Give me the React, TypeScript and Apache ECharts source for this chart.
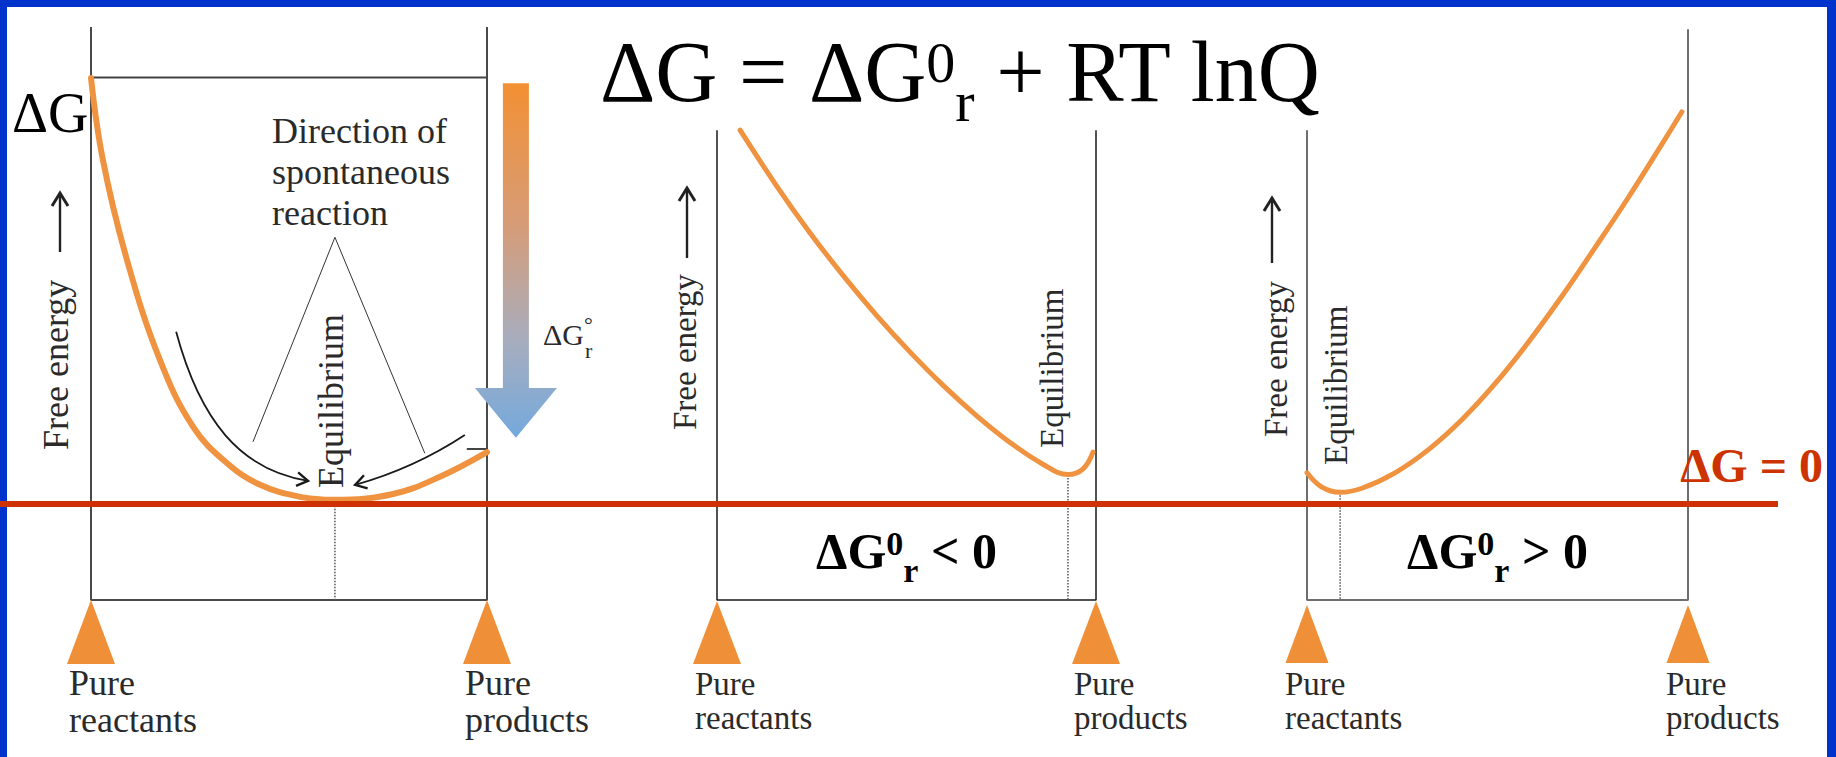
import React, { useEffect, useRef } from 'react';
import * as echarts from 'echarts';

const SERIF = "Liberation Serif, Times New Roman, Times, serif";
const ORANGE = '#EF9340';
const TRI = '#EF8F38';
const RED = '#CC3300';
const BLUE = '#0033CC';
const INK = '#222222';

// ---- panel layout (pixels) ----
const gridLeft = [91, 717, 1307];
const gridWidth = [396, 379, 381];
const GRID_TOP = 27;
const GRID_HEIGHT = 573;

// ---- data: x = extent of reaction (0 pure reactants, 1 pure products), y = free energy (arb. units)
const frameTopLeft = [100, 82, 82];
const frameTopRight = [100, 82, 99.6];
const frameColor = ['#4a4a4a', '#1a1a1a', '#6e6e6e'];
const frameWidth = [2, 1.5, 2];
const curveWidth = [6, 5, 5];

const curve1X = [0, 0.03, 0.091, 0.174, 0.258, 0.343, 0.427, 0.528, 0.616, 0.763, 0.881, 1];
const curve1G = [91.1, 76.8, 59.3, 41.9, 30.2, 23.9, 20.1, 18.0, 17.5, 18.5, 21.5, 25.8];
const curve2X = [0.061, 0.158, 0.245, 0.332, 0.422, 0.509, 0.596, 0.686, 0.773, 0.86, 0.926, 0.966, 0.992];
const curve2G = [82.0, 72.2, 64.1, 56.7, 49.6, 43.3, 37.5, 32.1, 27.5, 23.7, 21.9, 22.9, 25.8];
const curve3X = [0, 0.039, 0.087, 0.144, 0.231, 0.318, 0.407, 0.493, 0.58, 0.669, 0.756, 0.843, 0.932, 0.984];
const curve3G = [22.2, 19.7, 18.8, 19.5, 22.2, 26.2, 31.5, 37.7, 44.9, 53.0, 61.5, 70.2, 79.6, 85.2];

const equilibriumX = [0.616, 0.926, 0.087];
const equilibriumG = [17.5, 21.8, 18.8];
const deltaGZeroLevel = 16.75;

// panel 1 annotations
const pureReactantsG = 91.2;
const pureProductsG = 26.35;
const levelLineEndX = 1.19;
const productLevelStartX = 0.949;
const standardArrow = [1.073, 90.2, 37.0, 28.3]; // x, top, head base, tip
const pointerLinesX = [0.409, 0.616, 0.843];
const pointerLinesG = [27.6, 63.3, 25.6];
const leftSpontArrow = [0.215, 46.8, 0.275, 31.4, 0.376, 22.7, 0.548, 20.8];
const rightSpontArrow = [0.944, 28.8, 0.856, 24.8, 0.755, 21.8, 0.667, 20.1];

// labels
const endLabels = ['Pure\nreactants', 'Pure\nproducts'];
const labelSize = [36, 33, 33];
const triangleSize = [[48, 64], [48, 63], [43, 58]];
const triangleGap = [0, 1, 5];
const conditionSigns = ['', ' < 0', ' > 0'];

const zip = (xs: number[], ys: number[]) => xs.map((x, i) => [x, ys[i]]);
const curves = [zip(curve1X, curve1G), zip(curve2X, curve2G), zip(curve3X, curve3G)];

const CENTRAL = 0.3374;

let measureCtx: CanvasRenderingContext2D | null = null;
function measure(t: string, size: number, bold = false) {
  if (!measureCtx) measureCtx = document.createElement('canvas').getContext('2d');
  measureCtx!.font = `${bold ? 'bold ' : ''}${size}px ${SERIF}`;
  return measureCtx!.measureText(t).width;
}

function txt(text: string, x: number, y: number, size: number, o: any = {}) {
  const align = o.align || 'left';
  const va = o.va || 'middle';
  return {
    type: 'text',
    x,
    y,
    rotation: o.rotation || 0,
    z: 60,
    silent: true,
    style: {
      text,
      fontSize: size,
      fontFamily: SERIF,
      fontWeight: o.bold ? 'bold' : 'normal',
      fontStyle: o.italic ? 'italic' : 'normal',
      fill: o.color || INK,
      align,
      textAlign: align,
      verticalAlign: va,
      textVerticalAlign: va,
      lineHeight: o.lineHeight,
    },
  };
}

// sequence of [text, size, baseline] pieces laid out left to right
function pieces(list: any[], x0: number, center: boolean, bold: boolean, color: string) {
  const widths = list.map((p) => measure(p[0], p[1], bold));
  const total = widths.reduce((a, b) => a + b, 0);
  let x = center ? x0 - total / 2 : x0;
  return list.map((p, i) => {
    const el = txt(p[0], x, p[2] - CENTRAL * p[1], p[1], { bold, color });
    x += widths[i];
    return el;
  });
}

function arrowUp(x: number, tail: number, tip: number) {
  return [
    { type: 'line', z: 60, silent: true, shape: { x1: x, y1: tail, x2: x, y2: tip + 1 }, style: { stroke: INK, lineWidth: 2.4 } },
    {
      type: 'polyline', z: 60, silent: true,
      shape: { points: [[x - 8, tip + 13], [x, tip], [x + 8, tip + 13]] },
      style: { stroke: INK, lineWidth: 3, fill: 'none' },
    },
  ];
}

function buildOption() {
  const grid = gridLeft.map((l, i) => ({ left: l, top: GRID_TOP, width: gridWidth[i], height: GRID_HEIGHT }));
  const xAxis = gridLeft.map((_, i) => ({ gridIndex: i, type: 'value', min: 0, max: 1, show: false }));
  const yAxis = gridLeft.map((_, i) => ({ gridIndex: i, type: 'value', min: 0, max: 100, show: false }));
  const series: any[] = [];
  const base = { type: 'line', symbol: 'none', showSymbol: false, silent: true, clip: false, animation: false };
  gridLeft.forEach((_, i) => {
    series.push({
      ...base, name: `frame${i}`, xAxisIndex: i, yAxisIndex: i, z: 2,
      data: [[0, frameTopLeft[i]], [0, 0], [1, 0], [1, frameTopRight[i]]],
      lineStyle: { color: frameColor[i], width: frameWidth[i] },
    });
    series.push({
      ...base, name: `equilibrium${i}`, xAxisIndex: i, yAxisIndex: i, z: 2,
      data: [[equilibriumX[i], equilibriumG[i]], [equilibriumX[i], 0]],
      lineStyle: { color: '#555', width: 1.5, type: 'dotted' },
    });
    series.push({
      ...base, name: `curve${i}`, xAxisIndex: i, yAxisIndex: i, z: 4, smooth: 0.4,
      data: curves[i],
      lineStyle: { color: ORANGE, width: curveWidth[i], cap: 'round' },
    });
    const [tw, th] = triangleSize[i];
    series.push({
      type: 'scatter', name: `ends${i}`, xAxisIndex: i, yAxisIndex: i, silent: true, clip: false, z: 5,
      data: [[0, 0], [1, 0]],
      symbol: 'triangle', symbolSize: [tw, th], symbolOffset: [0, th / 2 + triangleGap[i]],
      itemStyle: { color: TRI, opacity: 1 },
    });
  });
  // panel 1: standard free energy level lines
  series.push({
    ...base, name: 'reactantsLevel', xAxisIndex: 0, yAxisIndex: 0, z: 3,
    data: [[0, pureReactantsG], [levelLineEndX, pureReactantsG]],
    lineStyle: { color: '#444', width: 2 },
  });
  series.push({
    ...base, name: 'productsLevel', xAxisIndex: 0, yAxisIndex: 0, z: 3,
    data: [[productLevelStartX, pureProductsG], [levelLineEndX, pureProductsG]],
    lineStyle: { color: '#444', width: 2 },
  });
  series.push({
    ...base, name: 'pointer', xAxisIndex: 0, yAxisIndex: 0, z: 3,
    data: zip(pointerLinesX, pointerLinesG),
    lineStyle: { color: '#333', width: 1 },
  });
  series.push({
    type: 'custom', name: 'spontaneous', xAxisIndex: 0, yAxisIndex: 0, silent: true, z: 5,
    data: [leftSpontArrow, rightSpontArrow],
    renderItem: (params: any, api: any) => {
      const p = [0, 1, 2, 3].map((k) => api.coord([api.value(2 * k), api.value(2 * k + 1)]));
      const [p0, p1, p2, p3] = p;
      const ang = Math.atan2(p3[1] - p2[1], p3[0] - p2[0]);
      const L = 13, A = 0.55;
      const h1 = [p3[0] - L * Math.cos(ang - A), p3[1] - L * Math.sin(ang - A)];
      const h2 = [p3[0] - L * Math.cos(ang + A), p3[1] - L * Math.sin(ang + A)];
      return {
        type: 'group',
        children: [
          {
            type: 'bezierCurve',
            shape: { x1: p0[0], y1: p0[1], cpx1: p1[0], cpy1: p1[1], cpx2: p2[0], cpy2: p2[1], x2: p3[0], y2: p3[1] },
            style: { stroke: '#1a1a1a', lineWidth: 1.8, fill: 'none' },
          },
          { type: 'polyline', shape: { points: [h1, p3, h2] }, style: { stroke: '#1a1a1a', lineWidth: 2.4, fill: 'none' } },
        ],
      };
    },
  });
  series.push({
    type: 'custom', name: 'standardArrow', xAxisIndex: 0, yAxisIndex: 0, silent: true, z: 5,
    data: [standardArrow],
    renderItem: (params: any, api: any) => {
      const top = api.coord([api.value(0), api.value(1)]);
      const hb = api.coord([api.value(0), api.value(2)]);
      const tip = api.coord([api.value(0), api.value(3)]);
      const cx = top[0], sw = 13, hw = 41;
      return {
        type: 'polygon',
        shape: {
          points: [[cx - sw, top[1]], [cx + sw, top[1]], [cx + sw, hb[1]], [cx + hw, hb[1]], [cx, tip[1]], [cx - hw, hb[1]], [cx - sw, hb[1]]],
        },
        style: {
          fill: new echarts.graphic.LinearGradient(0, 0, 0, 1, [
            { offset: 0, color: '#F39033' },
            { offset: 0.4, color: '#D69C78' },
            { offset: 0.72, color: '#A8ADBD' },
            { offset: 1, color: '#74A9DD' },
          ]),
        },
      };
    },
  });
  return {
    animation: false,
    backgroundColor: '#ffffff',
    grid, xAxis, yAxis, series,
  };
}

function buildGraphic(chart: any) {
  const zero = chart.convertToPixel({ gridIndex: 0 }, [0, deltaGZeroLevel]);
  const zy = zero[1];
  const els: any[] = [];
  // blue slide border
  els.push({ type: 'rect', z: 40, silent: true, shape: { x: 0, y: 0, width: 1836, height: 7 }, style: { fill: BLUE } });
  els.push({ type: 'rect', z: 40, silent: true, shape: { x: 0, y: 0, width: 7, height: 757 }, style: { fill: BLUE } });
  els.push({ type: 'rect', z: 40, silent: true, shape: { x: 1827, y: 0, width: 9, height: 757 }, style: { fill: BLUE } });
  // ΔG = 0 line
  els.push({ type: 'line', z: 80, silent: true, shape: { x1: 0, y1: zy, x2: 1778, y2: zy }, style: { stroke: RED, lineWidth: 6 } });
  els.push(txt('ΔG = 0', 1823, zy - 22 - CENTRAL * 48, 48, { bold: true, color: RED, align: 'right' }));

  // title
  els.push(...pieces([['ΔG = ΔG', 86, 101], ['0', 58, 82], ['r', 58, 121], [' + RT lnQ', 86, 101]], 600, false, false, '#000'));

  // conditions
  [1, 2].forEach((i) => {
    const cx = gridLeft[i] + gridWidth[i] / 2;
    els.push(...pieces([['ΔG', 50, 568], ['0', 34, 555], ['r', 34, 582], [conditionSigns[i], 50, 568]], cx, true, true, '#000'));
  });

  // panel 1 labels
  els.push(txt('ΔG', 12, 132 - CENTRAL * 56, 56, { color: '#000' }));
  els.push(txt('Direction of\nspontaneous\nreaction', 272, 143 - 20.5 - CENTRAL * 36, 36, { va: 'top', lineHeight: 41, color: '#2a2a2a' }));
  const gW = measure('ΔG', 30);
  els.push(txt('ΔG', 543, 345 - CENTRAL * 30, 30, { color: '#2a2a2a' }));
  els.push(txt('°', 543 + gW, 332 - CENTRAL * 22, 22, { color: '#2a2a2a' }));
  els.push(txt('r', 544 + gW, 358 - CENTRAL * 22, 22, { color: '#2a2a2a' }));

  // Equilibrium labels (rotated)
  const eqPos = [[331, 488], [1052, 448], [1336, 465]];
  eqPos.forEach((p, i) => els.push(txt('Equilibrium', p[0], p[1], labelSize[i], { rotation: Math.PI / 2, color: '#2a2a2a' })));

  // Free energy labels + arrows
  const fePos = [[56, 450], [685, 430], [1276, 437]];
  fePos.forEach((p, i) => els.push(txt('Free energy', p[0], p[1], labelSize[i], { rotation: Math.PI / 2, color: '#2a2a2a' })));
  const feArrow = [[60, 252, 193], [687, 258, 188], [1272, 263, 198]];
  feArrow.forEach((a) => els.push(...arrowUp(a[0], a[1], a[2])));

  // Pure reactants / products labels
  gridLeft.forEach((l, i) => {
    const lh = labelSize[i] + 1;
    [0, 1].forEach((k) => {
      const px = chart.convertToPixel({ gridIndex: i }, [k, 0]);
      els.push(txt(endLabels[k], px[0] - 22, 695 - lh / 2 - CENTRAL * labelSize[i], labelSize[i], { va: 'top', lineHeight: lh, color: '#2a2a2a' }));
    });
  });
  return els;
}

export default function App() {
  const ref = useRef<HTMLDivElement>(null);
  useEffect(() => {
    if (!ref.current) return;
    const chart = echarts.init(ref.current, undefined, { renderer: 'svg' });
    chart.setOption(buildOption() as any);
    chart.setOption({ graphic: { elements: buildGraphic(chart) } } as any);
    return () => chart.dispose();
  }, []);
  return (
    <div
      ref={ref}
      style={{ position: 'fixed', left: 0, top: 0, width: 1836, height: 757, background: '#fff' }}
    />
  );
}
